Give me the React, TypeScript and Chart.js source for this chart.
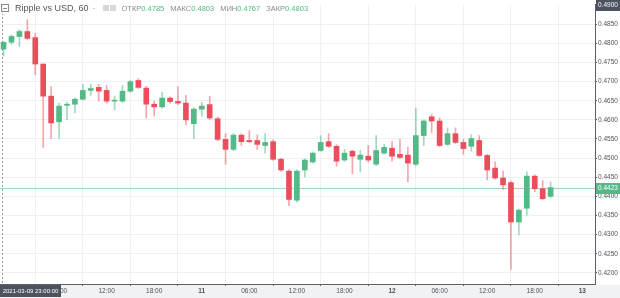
import React, { useEffect, useRef } from "react";
import { Chart, registerables } from "chart.js";
Chart.register(...registerables);

// Hourly candles starting 2021-03-09 23:00 (index 0)
const opens = [0.4785, 0.4803, 0.4818, 0.4831, 0.4815, 0.4746, 0.4662, 0.4595, 0.4638, 0.4641,
  0.4654, 0.4677, 0.4685, 0.4677, 0.4649, 0.4649, 0.4675, 0.4703, 0.4683, 0.4641,
  0.4634, 0.4657, 0.4648, 0.4644, 0.4590, 0.4628, 0.4640, 0.4603, 0.4549, 0.4523,
  0.4560, 0.4546, 0.4546, 0.4533, 0.4543, 0.4497, 0.4466, 0.4390, 0.4469, 0.4490,
  0.4520, 0.4543, 0.4531, 0.4495, 0.4518, 0.4497, 0.4505, 0.4484, 0.4513, 0.4526,
  0.4510, 0.4508, 0.4484, 0.4559, 0.4608, 0.4597, 0.4536, 0.4564, 0.4541, 0.4531,
  0.4546, 0.4507, 0.4474, 0.4448, 0.4436, 0.4333, 0.4369, 0.4453, 0.4420, 0.4400];
const highs = [0.4803, 0.4822, 0.4836, 0.4862, 0.4826, 0.4746, 0.4687, 0.4644, 0.4646, 0.4657,
  0.4693, 0.4693, 0.4693, 0.4690, 0.4662, 0.4690, 0.4703, 0.4708, 0.4688, 0.4649,
  0.4672, 0.4660, 0.4687, 0.4664, 0.4632, 0.4646, 0.4662, 0.4608, 0.4564, 0.4564,
  0.4564, 0.4572, 0.4561, 0.4564, 0.4548, 0.4500, 0.4470, 0.4470, 0.4498, 0.4516,
  0.4559, 0.4564, 0.4535, 0.4523, 0.4521, 0.4520, 0.4533, 0.4559, 0.4536, 0.4543,
  0.4549, 0.4528, 0.4631, 0.4600, 0.4615, 0.4605, 0.4579, 0.4579, 0.4549, 0.4561,
  0.4559, 0.4510, 0.4490, 0.4466, 0.4440, 0.4367, 0.4464, 0.4456, 0.4441, 0.4438];
const lows = [0.4767, 0.4798, 0.4792, 0.4810, 0.4718, 0.4528, 0.4551, 0.4551, 0.4600, 0.4618,
  0.4652, 0.4664, 0.4649, 0.4644, 0.4626, 0.4646, 0.4672, 0.4682, 0.4605, 0.4610,
  0.4630, 0.4644, 0.4640, 0.4587, 0.4551, 0.4610, 0.4600, 0.4545, 0.4484, 0.4520,
  0.4533, 0.4540, 0.4523, 0.4513, 0.4494, 0.4465, 0.4376, 0.4385, 0.4451, 0.4487,
  0.4518, 0.4528, 0.4479, 0.4492, 0.4459, 0.4464, 0.4490, 0.4480, 0.4510, 0.4492,
  0.4499, 0.4438, 0.4480, 0.4533, 0.4567, 0.4530, 0.4533, 0.4538, 0.4510, 0.4518,
  0.4505, 0.4443, 0.4445, 0.4418, 0.4209, 0.4299, 0.4351, 0.4412, 0.4391, 0.4397];
const closes = [0.4803, 0.4818, 0.4831, 0.4813, 0.4746, 0.4662, 0.4592, 0.4636, 0.4641, 0.4654,
  0.4677, 0.4682, 0.4675, 0.4649, 0.4651, 0.4675, 0.4700, 0.4685, 0.4641, 0.4634,
  0.4657, 0.4648, 0.4644, 0.4600, 0.4628, 0.4636, 0.4605, 0.4549, 0.4523, 0.4560,
  0.4543, 0.4543, 0.4536, 0.4541, 0.4497, 0.4469, 0.4392, 0.4466, 0.4495, 0.4513,
  0.4541, 0.4531, 0.4492, 0.4513, 0.4505, 0.4508, 0.4495, 0.4520, 0.4528, 0.4505,
  0.4502, 0.4487, 0.4559, 0.4597, 0.4597, 0.4533, 0.4564, 0.4541, 0.4525, 0.4551,
  0.4507, 0.4469, 0.4448, 0.4430, 0.4333, 0.4364, 0.4453, 0.4420, 0.4394, 0.4423];

const xTickValues = [7, 13, 19, 25, 31, 37, 43, 49, 55, 61, 67, 73];
const xTickLabels = ["06:00", "12:00", "18:00", "11", "06:00", "12:00", "18:00", "12", "06:00", "12:00", "18:00", "13"];
const dayTicks = ["11", "12", "13"];
const yTickValues = [0.42, 0.425, 0.43, 0.435, 0.44, 0.445, 0.45, 0.455, 0.46, 0.465, 0.47, 0.475, 0.48, 0.485];
const yMin = 0.41709;
const yMax = 0.49006;
const lastPrice = 0.4423;
const crossPrice = 0.49;
const crossIndex = 0;
const crossTimeLabel = "2021-03-09 23:00:00";
const headerTitle = "Ripple vs USD, 60";
const headerNames = ["ОТКР", "МАКС", "МИН", "ЗАКР"];
const headerValues = ["0.4785", "0.4803", "0.4767", "0.4803"];

const UP = "#53b987";
const DOWN = "#eb4d5c";
const UP_WICK = "rgba(83,185,135,0.55)";
const DOWN_WICK = "rgba(235,77,92,0.5)";
const FONT = "'Liberation Sans', Arial, sans-serif";

const overlay = {
  id: "overlay",
  beforeDraw(chart: any) {
    const { ctx, width, height, chartArea } = chart;
    ctx.save();
    ctx.fillStyle = "#ffffff";
    ctx.fillRect(0, 0, width, height);
    ctx.fillStyle = "#f1f2f4";
    ctx.fillRect(0, chartArea.bottom + 1, width, height - chartArea.bottom - 1);
    ctx.restore();
  },
  beforeDatasetsDraw(chart: any) {
    const { ctx, chartArea, scales } = chart;
    const y = Math.round(scales.y.getPixelForValue(lastPrice)) + 0.5;
    ctx.save();
    ctx.strokeStyle = "rgba(83,185,135,0.55)";
    ctx.lineWidth = 1;
    ctx.beginPath();
    ctx.moveTo(chartArea.left, y);
    ctx.lineTo(chartArea.right, y);
    ctx.stroke();
    const x = Math.floor(scales.x.getPixelForValue(crossIndex)) - 0.5;
    ctx.strokeStyle = "#9598a1";
    ctx.setLineDash([2, 2]);
    ctx.beginPath();
    ctx.moveTo(x, chartArea.top);
    ctx.lineTo(x, chartArea.bottom);
    ctx.stroke();
    ctx.restore();
  },
  afterDraw(chart: any) {
    const { ctx, chartArea, scales, width } = chart;
    ctx.save();
    ctx.font = `6.5px ${FONT}`;
    ctx.textBaseline = "middle";
    ctx.textAlign = "left";
    // last price label
    const yl = Math.round(scales.y.getPixelForValue(lastPrice));
    ctx.fillStyle = UP;
    ctx.fillRect(chartArea.right + 1, yl - 5, width - chartArea.right - 1, 11);
    ctx.fillStyle = "#ffffff";
    ctx.fillText(lastPrice.toFixed(4), chartArea.right + 3, yl + 0.5);
    // crosshair price label
    const yc = Math.round(scales.y.getPixelForValue(crossPrice));
    ctx.fillStyle = "#4c525e";
    ctx.fillRect(chartArea.right + 1, yc - 6, width - chartArea.right - 1, 12);
    ctx.fillStyle = "#ffffff";
    ctx.fillText(crossPrice.toFixed(4), chartArea.right + 3, yc);
    // crosshair time label
    ctx.font = `6px ${FONT}`;
    ctx.fillStyle = "#4c525e";
    ctx.fillRect(0, chartArea.bottom + 1, 61, 12);
    ctx.fillStyle = "#ffffff";
    ctx.textAlign = "center";
    ctx.fillText(crossTimeLabel, 30.5, chartArea.bottom + 7.5);
    ctx.restore();
  },
};

export default function App() {
  const ref = useRef<HTMLCanvasElement>(null);
  useEffect(() => {
    const canvas = ref.current;
    if (!canvas) return;
    const up = (i: number) => closes[i] >= opens[i];
    const chart = new Chart(canvas, {
      type: "bar",
      data: {
        datasets: [
          {
            label: "wick",
            data: opens.map((_, i) => ({ x: i, y: [lows[i], highs[i]] })) as any,
            backgroundColor: opens.map((_, i) => (up(i) ? UP_WICK : DOWN_WICK)),
            barThickness: 1,
            grouped: false,
            order: 2,
          } as any,
          {
            label: "body",
            data: opens.map((o, i) => ({ x: i, y: [o, closes[i]] })) as any,
            backgroundColor: opens.map((_, i) => (up(i) ? UP : DOWN)),
            barThickness: 5,
            minBarLength: 1,
            grouped: false,
            order: 1,
          } as any,
        ],
      },
      plugins: [overlay],
      options: {
        animation: false,
        responsive: false,
        maintainAspectRatio: false,
        layout: { padding: 0 },
        plugins: { legend: { display: false }, tooltip: { enabled: false } },
        scales: {
          x: {
            type: "linear",
            min: -0.45,
            max: 74.6,
            offset: false,
            grid: { color: "#eef0f3", tickColor: "#5d606b", tickLength: 2, drawTicks: true },
            border: { color: "#5d606b", width: 1 },
            ticks: {
              autoSkip: false,
              maxRotation: 0,
              padding: 1,
              color: "#50535e",
              font: (c: any) => ({
                family: FONT,
                size: 6.5,
                weight: c.tick && dayTicks.includes(xTickLabels[xTickValues.indexOf(c.tick.value)]) ? "bold" : "normal",
              }),
              callback: (v: any) => {
                const k = xTickValues.indexOf(Number(v));
                return k >= 0 ? xTickLabels[k] : "";
              },
            },
            afterBuildTicks: (s: any) => {
              s.ticks = xTickValues.map((v) => ({ value: v }));
            },
            afterFit: (s: any) => {
              s.height = 14;
            },
          } as any,
          y: {
            position: "right",
            min: yMin,
            max: yMax,
            grid: { color: "#eef0f3", tickColor: "#5d606b", tickLength: 2 },
            border: { color: "#5d606b", width: 1 },
            ticks: {
              padding: 1,
              color: "#50535e",
              font: { family: FONT, size: 6.5 },
              callback: (v: any) => Number(v).toFixed(4),
            },
            afterBuildTicks: (s: any) => {
              s.ticks = yTickValues.map((v) => ({ value: v }));
            },
            afterFit: (s: any) => {
              s.width = 25;
            },
          } as any,
        },
      },
    });
    return () => chart.destroy();
  }, []);

  const labelStyle: React.CSSProperties = { color: "#8a8d94" };
  const valueStyle: React.CSSProperties = { color: UP, marginRight: 6 };
  return (
    <div style={{ position: "absolute", left: 0, top: 0, width: 620, height: 298, background: "#fff", overflow: "hidden" }}>
      <canvas ref={ref} width={620} height={298} style={{ display: "block", width: 620, height: 298 }} />
      <div
        style={{
          position: "absolute",
          left: 1,
          top: 2,
          height: 12,
          display: "flex",
          alignItems: "center",
          fontFamily: FONT,
          whiteSpace: "nowrap",
          background: "rgba(255,255,255,0.7)",
        }}
      >
        <span style={{ display: "inline-block", width: 6, height: 6, border: "1px solid #8a8d94", marginRight: 6, position: "relative" }}>
          <span style={{ position: "absolute", left: 1, top: 2.5, width: 4, height: 1, background: "#8a8d94" }} />
        </span>
        <span style={{ fontSize: 9, color: "#55585f", marginRight: 4 }}>{headerTitle}</span>
        <span style={{ fontSize: 9, color: "#8a8d94", marginRight: 7 }}>·</span>
        <span style={{ display: "inline-block", width: 6, height: 6, background: "#d8dade", marginRight: 1 }} />
        <span style={{ display: "inline-block", width: 6, height: 6, background: "#d8dade", marginRight: 6 }} />
        {headerNames.map((n, i) => (
          <span key={n} style={{ fontSize: 7.5 }}>
            <span style={labelStyle}>{n}</span>
            <span style={valueStyle}>{headerValues[i]}</span>
          </span>
        ))}
      </div>
    </div>
  );
}
